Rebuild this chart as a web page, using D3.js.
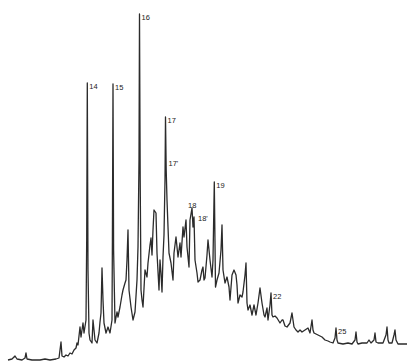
<!DOCTYPE html>
<html>
<head>
<meta charset="utf-8">
<script src="https://cdn.jsdelivr.net/npm/d3@7"></script>
<style>
  html, body { margin: 0; padding: 0; background: #fff; }
  svg { display: block; }
  .trace { fill: none; stroke: #2b2b2b; stroke-width: 1.3; stroke-linejoin: round; }
  .peak-label { font-family: "Liberation Sans", Arial, sans-serif; font-size: 7.5px; fill: #222; }
</style>
</head>
<body>
<div id="chart"></div>
<script>
// ------------------------------------------
//  Data
// ------------------------------------------
const scans = [
  8, 12, 15, 17, 22, 25, 26, 27, 32, 40, 45, 50, 56, 59, 60, 61, 62, 64, 66, 68,
  70, 72, 74, 76, 77, 78, 80, 81, 83, 84, 86, 86.7, 87.3, 88, 89, 90, 92, 93, 95, 97,
  99, 100, 101, 102, 103, 104, 106, 108, 110, 112, 112.4, 113, 113.6, 115, 117, 118, 120, 122, 123, 125,
  126, 127, 128, 129, 131, 133, 135, 137, 138, 139, 139.5, 140.2, 141, 142, 143, 145, 147, 148, 150, 151,
  152, 153, 154, 156, 157, 159, 160, 161, 162, 163, 164, 165, 165.5, 166.2, 167, 168, 169, 171, 173, 174,
  176, 178, 180, 181, 183, 184, 186, 187, 189, 190, 192, 193, 194, 195, 197, 198, 200, 202, 203, 204,
  205, 207, 208, 210, 212, 213, 214.3, 215.5, 217, 219, 221, 222, 223, 225, 227, 229, 230, 232, 234, 236,
  237, 238, 240, 242, 243, 245, 246, 247, 248, 250, 252, 254, 256, 258, 260, 262, 264, 265, 267, 268,
  270, 271, 272, 273, 275, 277, 280, 282, 283, 285, 287, 290, 292, 294, 296, 298, 300, 302, 305, 308,
  310, 312, 313, 314, 316, 318, 320, 322, 325, 328, 330, 333, 335, 336, 337, 338, 343, 348, 352, 355,
  356, 357, 358, 362, 367, 369, 371, 374, 375, 376, 378, 383, 386, 387, 388, 389, 392, 394, 395, 396,
  398, 402, 407
]
const abundance = [
  0, 1, 4, 1, 0, 2, 7, 1, 0, 0, 1, 0, 1, 2, 10, 18, 4, 3, 5, 4,
  7, 6, 10, 12, 17, 15, 33, 23, 37, 27, 40, 120, 277, 90, 27, 20, 17, 40, 20, 17,
  27, 38, 47, 92, 60, 37, 27, 33, 27, 40, 120, 276, 110, 37, 48, 43, 53, 65, 70, 77,
  80, 100, 130, 70, 53, 40, 48, 80, 113, 200, 346, 180, 70, 60, 53, 90, 83, 97, 115, 122,
  105, 130, 150, 147, 107, 70, 100, 87, 68, 103, 125, 180, 243, 190, 160, 133, 107, 97, 80, 107,
  123, 103, 117, 103, 133, 123, 140, 113, 93, 140, 152, 133, 143, 100, 87, 78, 80, 90, 93, 80,
  82, 105, 120, 100, 83, 100, 178, 73, 80, 87, 110, 135, 90, 77, 83, 73, 60, 85, 90, 85,
  75, 57, 65, 63, 68, 85, 97, 57, 50, 55, 45, 55, 45, 57, 72, 57, 45, 43, 52, 40,
  55, 67, 45, 43, 44, 42, 37, 40, 40, 34, 33, 37, 47, 33, 30, 28, 30, 28, 30, 32,
  27, 40, 30, 27, 26, 25, 24, 23, 20, 19, 18, 17, 22, 32, 20, 17, 16, 17, 16, 20,
  28, 18, 16, 17, 17, 20, 17, 20, 27, 18, 17, 17, 25, 33, 20, 17, 17, 25, 30, 20,
  16, 16, 16
]

// peak numbering printed on the trace
const peakNames = ['14', '15', '16', '17', "17'", '18', "18'", '19', '22', '25']
const peakScans = [87.3, 113, 139.5, 165.5, 166.5, 186, 196, 214.3, 271, 336]
const peakLevels = [277, 276, 346, 243, 200, 158, 145, 178, 67, 32]

// ------------------------------------------
//  Chart
// ------------------------------------------
function drawChromatogram() {
  const width = 410, height = 363
  const svg = d3.select('#chart').append('svg')
    .attr('width', width)
    .attr('height', height)

  const x = d3.scaleLinear().domain([0, 410]).range([0, width])
  const y = d3.scaleLinear().domain([0, 360]).range([360, 0])

  const points = scans.map((s, i) => [s, abundance[i]])

  const line = d3.line()
    .x(d => x(d[0]))
    .y(d => y(d[1]))

  svg.append('path')
    .datum(points)
    .attr('class', 'trace')
    .attr('d', line)

  svg.selectAll('.peak-label')
    .data(peakNames)
    .enter().append('text')
    .attr('class', 'peak-label')
    .attr('x', (d, i) => x(peakScans[i]) + 2)
    .attr('y', (d, i) => y(peakLevels[i]) + 6)
    .text(d => d)
}

drawChromatogram()
</script>
</body>
</html>
